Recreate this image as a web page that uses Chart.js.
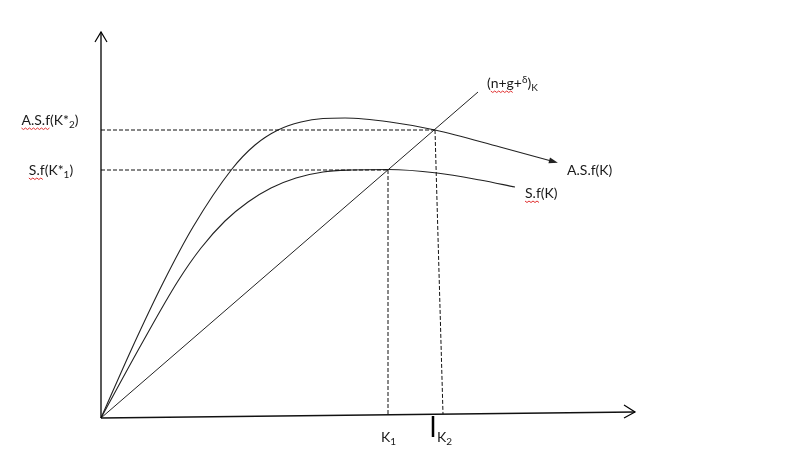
<!DOCTYPE html>
<html>
<head>
<meta charset="utf-8">
<script src="https://cdn.jsdelivr.net/npm/chart.js@4.4.1/dist/chart.umd.min.js"></script>
<style>
  html, body { margin: 0; padding: 0; background: #fff; }
  #wrap { width: 797px; height: 471px; position: relative; }
</style>
</head>
<body>
<div id="wrap"><canvas id="c"></canvas></div>
<script>
// diagram units: origin of the axes is (0,0), one unit ~ one pixel
const asfK = [0, 32, 62, 92, 131, 154, 177, 200, 222, 244, 289, 334, 399, 454];
const asfY = [0, 72, 135, 191, 249, 273, 288, 296, 299.5, 300, 296, 288, 271, 256];
const sfK = [0, 40, 77, 100, 124, 147, 170, 195, 222, 250, 287, 336, 379, 414];
const sfY = [0, 73, 137, 170, 197, 216, 230, 240, 246, 248, 248.5, 245, 238, 231];
const lineK = [0, 377];
const lineY = [0, 326];
const K1 = 287, K2top = 334, K2bottom = 342;
const y1 = 248, y2 = 288;
const xAxisEnd = [534, 6];
const yAxisTop = 386;
const tickK = 332;

const pts = (xs, ys) => xs.map((x, i) => ({ x: x, y: ys[i] }));

const ink = '#222';
const dashed = { borderColor: '#111', borderWidth: 1, borderDash: [4, 2], pointRadius: 0, showLine: true, fill: false };

const datasets = [
  { data: [{ x: 0, y: 0 }, { x: 0, y: yAxisTop }], borderColor: '#000', borderWidth: 1.3, pointRadius: 0, showLine: true },
  { data: [{ x: 0, y: 0 }, { x: xAxisEnd[0], y: xAxisEnd[1] }], borderColor: '#111', borderWidth: 1.3, pointRadius: 0, showLine: true },
  { data: [{ x: tickK, y: 2 }, { x: tickK, y: -19 }], borderColor: '#000', borderWidth: 2.5, pointRadius: 0, showLine: true },
  Object.assign({ data: [{ x: 0, y: y2 }, { x: K2top, y: y2 }] }, dashed),
  Object.assign({ data: [{ x: 0, y: y1 }, { x: K1, y: y1 }] }, dashed),
  Object.assign({ data: [{ x: K1, y: y1 }, { x: K1, y: 2 }] }, dashed),
  Object.assign({ data: [{ x: K2top, y: y2 }, { x: K2bottom, y: 4 }] }, dashed),
  { data: pts(lineK, lineY), borderColor: ink, borderWidth: 1, pointRadius: 0, showLine: true },
  { data: pts(asfK, asfY), borderColor: ink, borderWidth: 1.1, pointRadius: 0, showLine: true, cubicInterpolationMode: 'monotone' },
  { data: pts(sfK, sfY), borderColor: ink, borderWidth: 1.1, pointRadius: 0, showLine: true, cubicInterpolationMode: 'monotone' }
];

// label pieces: [text, 'n' | 'sub' | 'sup']
function drawRich(ctx, x, y, parts, align, wavyChars) {
  const base = '14px Lato, "Open Sans", sans-serif';
  const small = '10px Lato, "Open Sans", sans-serif';
  let w = 0;
  parts.forEach(p => { ctx.font = p[1] === 'n' ? base : small; w += ctx.measureText(p[0]).width; });
  let cx = align === 'center' ? x - w / 2 : x;
  const startX = cx;
  ctx.fillStyle = '#1a1a1a';
  ctx.textBaseline = 'alphabetic';
  ctx.textAlign = 'left';
  parts.forEach(p => {
    ctx.font = p[1] === 'n' ? base : small;
    let dy = 0;
    if (p[1] === 'sub') dy = 3;
    if (p[1] === 'sup') dy = -5;
    ctx.fillText(p[0], cx, y + dy);
    cx += ctx.measureText(p[0]).width;
  });
  if (wavyChars) {
    ctx.font = base;
    const pre = ctx.measureText(wavyChars[0]).width;
    const len = ctx.measureText(wavyChars[1]).width;
    ctx.save();
    ctx.strokeStyle = '#e03030';
    ctx.lineWidth = 1;
    ctx.beginPath();
    const wy = y + 3;
    for (let i = 0; i <= len; i += 2) {
      const px = startX + pre + i;
      const py = wy + ((i / 2) % 2 === 0 ? 0 : 1.5);
      if (i === 0) ctx.moveTo(px, py); else ctx.lineTo(px, py);
    }
    ctx.stroke();
    ctx.restore();
  }
}

const overlay = {
  id: 'overlay',
  afterDatasetsDraw(chart) {
    const ctx = chart.ctx;
    const sx = chart.scales.x, sy = chart.scales.y;
    const X = v => sx.getPixelForValue(v), Y = v => sy.getPixelForValue(v);
    ctx.save();
    ctx.strokeStyle = '#000';
    ctx.lineWidth = 1.2;
    // y axis arrow
    let ax = X(0), ay = Y(yAxisTop);
    ctx.beginPath();
    ctx.moveTo(ax - 6, ay + 10); ctx.lineTo(ax, ay); ctx.lineTo(ax + 6, ay + 10);
    ctx.stroke();
    // x axis arrow
    ax = X(xAxisEnd[0]); ay = Y(xAxisEnd[1]);
    ctx.beginPath();
    ctx.moveTo(ax - 11, ay - 7); ctx.lineTo(ax, ay); ctx.lineTo(ax - 11, ay + 6);
    ctx.stroke();
    // arrowhead on A.S.f(K)
    const n = asfK.length;
    const ex = X(asfK[n - 1]), ey = Y(asfY[n - 1]);
    const ang = Math.atan2(ey - Y(asfY[n - 2]), ex - X(asfK[n - 2]));
    ctx.fillStyle = '#222';
    ctx.beginPath();
    ctx.moveTo(ex + 3 * Math.cos(ang), ey + 3 * Math.sin(ang));
    ctx.lineTo(ex - 6 * Math.cos(ang) - 3 * Math.sin(ang), ey - 6 * Math.sin(ang) + 3 * Math.cos(ang));
    ctx.lineTo(ex - 6 * Math.cos(ang) + 3 * Math.sin(ang), ey - 6 * Math.sin(ang) - 3 * Math.cos(ang));
    ctx.closePath();
    ctx.fill();

    drawRich(ctx, X(-51), Y(293), [['A.S.f(K*', 'n'], ['2', 'sub'], [')', 'n']], 'center', ['', 'A.S.f']);
    drawRich(ctx, X(-50), Y(243), [['S.f(K*', 'n'], ['1', 'sub'], [')', 'n']], 'center', ['', 'S.f']);
    drawRich(ctx, X(386), Y(330), [['(n+g+', 'n'], ['δ', 'sup'], [')', 'n'], ['K', 'sub']], 'left', ['(', 'n+g']);
    drawRich(ctx, X(466), Y(243), [['A.S.f(K)', 'n']], 'left', null);
    drawRich(ctx, X(424), Y(220), [['S.f(K)', 'n']], 'left', ['', 'S.f']);
    drawRich(ctx, X(280), Y(-24), [['K', 'n'], ['1', 'sub']], 'left', null);
    drawRich(ctx, X(336), Y(-24), [['K', 'n'], ['2', 'sub']], 'left', null);
    ctx.restore();
  }
};

new Chart(document.getElementById('c'), {
  type: 'scatter',
  data: { datasets: datasets },
  options: {
    responsive: true,
    maintainAspectRatio: false,
    animation: false,
    layout: { padding: 0 },
    plugins: { legend: { display: false }, tooltip: { enabled: false } },
    scales: {
      x: { type: 'linear', min: -101, max: 696, display: false },
      y: { type: 'linear', min: -53, max: 418, display: false }
    }
  },
  plugins: [overlay]
});
</script>
</body>
</html>
